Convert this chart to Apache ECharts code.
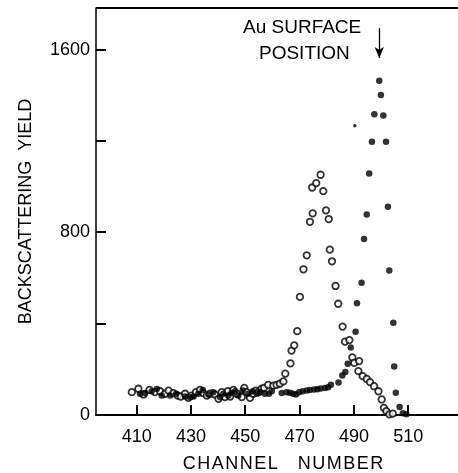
<!DOCTYPE html>
<html>
<head>
<meta charset="utf-8">
<script src="https://cdn.jsdelivr.net/npm/echarts@6/dist/echarts.min.js"></script>
<style>
  html, body { margin: 0; padding: 0; background: #fff; }
  #chart { width: 458px; height: 473px; }
</style>
</head>
<body>
<div id="chart"></div>
<script>
// open circles
const openChannel = [
  408.2, 410.6, 412.5, 414.7, 416.7, 418.6, 420.4, 421.7, 423.5, 425.1,
  426.2, 427.8, 429.0, 430.2, 431.8, 433.3, 434.5, 435.8, 437.0, 438.8,
  440.1, 441.3, 442.5, 443.5, 444.4, 445.6, 446.8, 448.7, 449.6, 450.5,
  451.7, 452.9, 453.8, 454.8, 456.0, 456.9, 458.4, 460.3, 461.5, 462.7,
  464.0, 464.7, 466.6, 467.0, 468.0, 469.1, 470.1, 471.4, 472.6, 473.8,
  474.8, 474.6, 476.1, 477.7, 478.7, 479.7, 480.7, 481.1, 481.9, 483.2,
  484.2, 485.8, 486.7, 488.3, 489.4, 490.1, 491.9, 491.6, 493.2, 494.7,
  495.9, 497.4, 499.0, 500.2, 501.0, 501.9, 503.0, 504.3
]
const openYield = [
  100, 115, 90, 110, 100, 104, 93, 107, 96, 85,
  81, 93, 75, 85, 100, 110, 96, 85, 93, 90,
  71, 100, 78, 104, 81, 110, 93, 78, 119, 100,
  75, 93, 107, 100, 115, 119, 132, 129, 132, 137,
  147, 181, 226, 282, 305, 367, 517, 638, 699, 846,
  883, 996, 1015, 1052, 980, 896, 858, 724, 673, 565,
  487, 387, 321, 328, 252, 228, 236, 192, 170, 158,
  144, 126, 104, 68, 31, 17, 3, 6
]
// filled circles
const solidChannel = [
  411.2, 413.1, 415.5, 417.4, 419.2, 422.3, 424.5, 427.8, 429.6, 430.9,
  432.7, 434.3, 436.4, 438.2, 440.7, 441.9, 443.7, 444.9, 446.2, 447.4,
  449.0, 451.1, 452.7, 454.2, 455.4, 457.2, 458.7, 459.7, 463.4, 465.2,
  466.4, 467.6, 468.6, 469.8, 471.1, 472.6, 473.8, 475.3, 476.5, 477.7,
  479.3, 480.5, 481.5, 484.3, 485.7, 486.8, 487.7, 488.8, 490.6, 491.1,
  492.8, 493.7, 494.7, 495.6, 496.6, 497.5, 499.3, 499.9, 500.8, 501.8,
  502.5, 503.0, 504.5, 504.8, 505.4, 506.8, 508.0, 509.3
]
const solidYield = [
  93, 96, 104, 114, 85, 85, 93, 81, 78, 81,
  93, 110, 90, 100, 78, 93, 85, 96, 104, 85,
  107, 93, 104, 93, 100, 93, 93, 104, 96, 100,
  97, 93, 90, 100, 104, 107, 110, 112, 113, 116,
  118, 122, 132, 142, 173, 188, 224, 296, 365, 489,
  579, 771, 878, 1057, 1196, 1317, 1463, 1401, 1311, 1196,
  912, 633, 404, 212, 97, 35, 8, 3
]
// small stray dot above the rising edge
const speckChannel = [490.3]
const speckYield = [1266]

const xTicks = [410, 430, 450, 470, 490, 510]
const yTicks = [0, 400, 800, 1200, 1600]
const yLabels = [0, 800, 1600]

// surface arrow
const arrowChannel = 499.3
const arrowFrom = 1694
const arrowTo = 1563

const X_MIN = 395
const X_MAX = 528.3
const Y_MAX = 1782
const TICK_PX = 10

const zip = (xs, ys) => xs.map((x, i) => [x, ys[i]])

const textFont = '"Liberation Sans", Arial, sans-serif'

const labels = [
  {
    type: 'text',
    left: 243,
    top: 18,
    style: { text: 'Au SURFACE', fill: '#000', font: '19px ' + textFont }
  },
  {
    type: 'text',
    left: 259,
    top: 44,
    style: { text: 'POSITION', fill: '#000', font: '19px ' + textFont }
  }
]

const chart = echarts.init(document.getElementById('chart'))
chart.setOption({
  animation: false,
  backgroundColor: '#fff',
  grid: {
    left: 96,
    top: 8,
    right: 0,
    bottom: 58,
    containLabel: false,
    outerBoundsMode: 'none'
  },
  xAxis: [
    {
      type: 'value',
      min: X_MIN,
      max: X_MAX,
      name: 'C\u200AH\u200AA\u200AN\u200AN\u200AE\u200AL    N\u200AU\u200AM\u200AB\u200AE\u200AR',
      nameLocation: 'middle',
      nameGap: 40,
      nameTextStyle: {
        color: '#000',
        fontSize: 18,
        fontFamily: textFont,
        padding: [0, 0, 0, 12]
      },
      axisLine: {
        lineStyle: { color: '#000', width: 2 }
      },
      axisTick: { show: false },
      axisLabel: {
        customValues: xTicks,
        margin: 13,
        color: '#000',
        fontSize: 18,
        fontFamily: textFont,
        formatter: v => String(v)
      },
      splitLine: { show: false }
    },
    {
      type: 'value',
      position: 'top',
      min: X_MIN,
      max: X_MAX,
      axisLine: { show: false },
      axisTick: { show: false },
      axisLabel: { show: false },
      splitLine: { show: false }
    }
  ],
  yAxis: {
    type: 'value',
    min: 0,
    max: Y_MAX,
    name: 'BACKSCATTERING  YIELD',
    nameLocation: 'middle',
    nameGap: 61,
    nameRotate: 90,
    nameTextStyle: {
      color: '#000',
      fontSize: 18,
      fontFamily: textFont
    },
    axisLine: {
      show: true,
      lineStyle: { color: '#000', width: 1.5 }
    },
    axisTick: { show: false },
    axisLabel: {
      customValues: yLabels,
      margin: 6,
      color: '#000',
      fontSize: 18,
      fontFamily: textFont,
      formatter: v => String(v)
    },
    splitLine: { show: false }
  },
  graphic: labels,
  series: [
    {
      name: 'open',
      type: 'scatter',
      symbol: 'circle',
      symbolSize: 6.5,
      itemStyle: {
        color: '#fff',
        borderColor: '#000',
        borderWidth: 1.8
      },
      data: zip(openChannel, openYield)
    },
    {
      name: 'solid',
      type: 'scatter',
      symbol: 'circle',
      symbolSize: 6.5,
      itemStyle: { color: '#000' },
      data: zip(solidChannel, solidYield),
      markLine: {
        silent: true,
        symbol: ['none', 'arrow'],
        symbolSize: [7, 11],
        label: { show: false },
        lineStyle: { color: '#000', width: 1.3, type: 'solid' },
        data: [[
          { coord: [arrowChannel, arrowFrom] },
          { coord: [arrowChannel, arrowTo] }
        ]]
      }
    },
    {
      name: 'speck',
      type: 'scatter',
      symbol: 'circle',
      symbolSize: 3.5,
      itemStyle: { color: '#000' },
      data: zip(speckChannel, speckYield)
    }
  ]
})

// inward ticks and the top frame line, placed through the chart's own scales,
// snapped to whole pixels so the 2px strokes stay crisp
const px = (x, y) => chart.convertToPixel({ xAxisIndex: 0, yAxisIndex: 0 }, [x, y]).map(Math.round)
const stroke = { stroke: '#000', lineWidth: 2 }
const frame = []
xTicks.forEach(t => {
  const p = px(t, 0)
  frame.push({ type: 'line', z: 100, shape: { x1: p[0], y1: p[1], x2: p[0], y2: p[1] - TICK_PX }, style: stroke })
})
yTicks.forEach(t => {
  const p = px(X_MIN, t)
  frame.push({ type: 'line', z: 100, shape: { x1: p[0], y1: p[1], x2: p[0] + TICK_PX, y2: p[1] }, style: stroke })
})
const a = px(X_MIN, Y_MAX)
const b = px(X_MAX, Y_MAX)
frame.push({ type: 'line', z: 100, shape: { x1: a[0], y1: a[1], x2: b[0], y2: b[1] }, style: stroke })

chart.setOption({ graphic: labels.concat(frame) })
</script>
</body>
</html>
